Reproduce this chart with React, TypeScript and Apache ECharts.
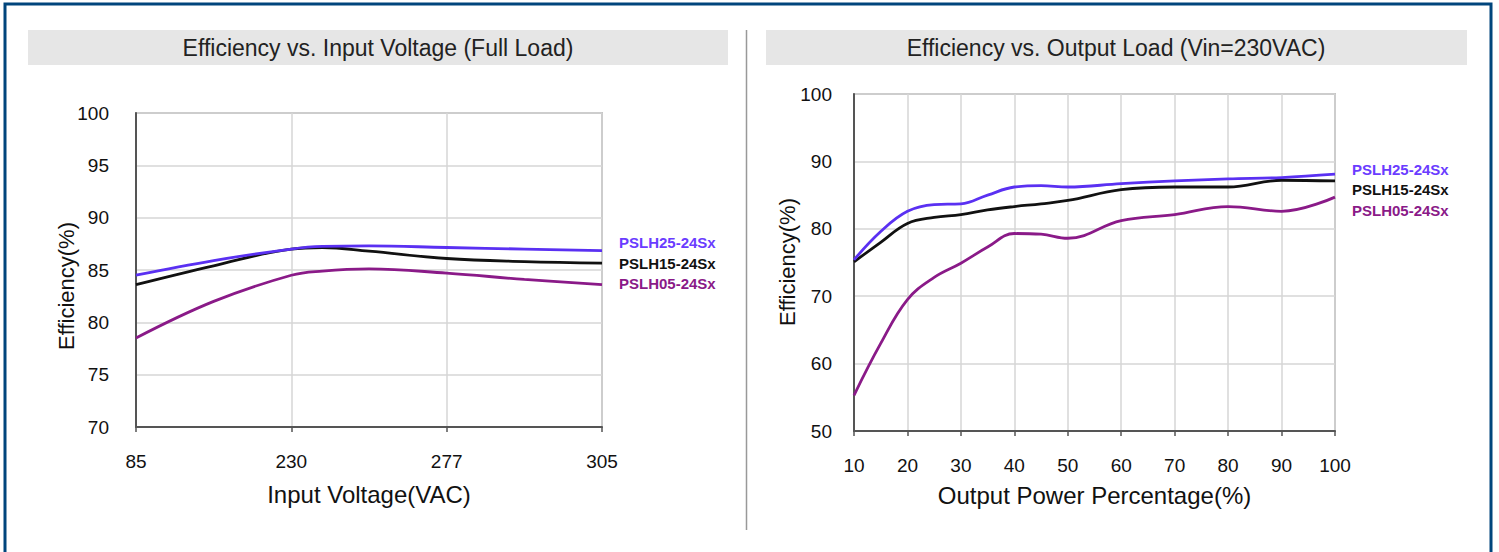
import React, { useEffect, useRef } from "react";
import * as echarts from "echarts";

// ---- Left chart: Efficiency vs. Input Voltage (Full Load) ----
const leftTickLabels = ["85", "230", "277", "305"];
// positions along the evenly spaced voltage axis (0 = 85V, 1 = 230V, 2 = 277V, 3 = 305V)
const leftX = [0, 0.5, 1, 1.2, 1.5, 2, 2.5, 3];
const leftPSLH25 = [84.5, 85.9, 87.0, 87.25, 87.3, 87.15, 87.0, 86.85];
const leftPSLH15 = [83.6, 85.4, 87.0, 87.15, 86.8, 86.1, 85.8, 85.65];
const leftPSLH05 = [78.5, 82.0, 84.5, 84.9, 85.1, 84.7, 84.1, 83.6];

// ---- Right chart: Efficiency vs. Output Load (Vin=230VAC) ----
const rightX = [10, 15, 20, 25, 30, 35, 40, 45, 50, 60, 70, 80, 90, 100];
const rightPSLH25 = [75.4, 79.6, 82.6, 83.6, 83.7, 85.0, 86.2, 86.4, 86.2, 86.7, 87.1, 87.4, 87.6, 88.1];
const rightPSLH15 = [75.1, 78.0, 80.8, 81.7, 82.1, 82.8, 83.3, 83.7, 84.2, 85.8, 86.2, 86.2, 87.2, 87.1];
const rightPSLH05 = [55.3, 63.0, 69.5, 72.8, 74.9, 77.3, 79.3, 79.2, 78.6, 81.2, 82.1, 83.3, 82.6, 84.7];

const seriesNames = ["PSLH25-24Sx", "PSLH15-24Sx", "PSLH05-24Sx"];
const lineColors = ["#5a30f2", "#111111", "#8a1a88"];
const labelColors = ["#6a3cff", "#111111", "#8a1a88"];

const FONT = "'Liberation Sans', Arial, sans-serif";

function pairs(xs: number[], ys: number[]) {
  return xs.map((x, i) => [x, ys[i]]);
}

export default function App() {
  const ref = useRef<HTMLDivElement>(null);

  useEffect(() => {
    document.body.style.margin = "0";
    if (!ref.current) return;
    const chart = echarts.init(ref.current, undefined, { renderer: "svg" });

    const axisLabelStyle = { color: "#111", fontSize: 19, fontFamily: FONT };
    const splitLine = { show: true, lineStyle: { color: "#d6d6d6", width: 1.5 } };
    const axisLine = { show: true, lineStyle: { color: "#555", width: 2 } };

    const leftOffsets = [-8, 0, -1];
    const rightOffsets = [-5, 9, 13];
    const leftData = [leftPSLH25, leftPSLH15, leftPSLH05];
    const rightData = [rightPSLH25, rightPSLH15, rightPSLH05];

    const makeSeries = (grid: number, xs: number[], data: number[][], offsets: number[]) =>
      data.map((ys, i) => ({
        type: "line",
        name: seriesNames[i] + (grid === 0 ? "" : " "),
        xAxisIndex: grid,
        yAxisIndex: grid,
        data: pairs(xs, ys),
        smooth: 0.4,
        showSymbol: false,
        symbol: "none",
        lineStyle: { color: lineColors[i], width: 2.8 },
        z: 10 - i,
        endLabel: {
          show: true,
          formatter: seriesNames[i],
          color: labelColors[i],
          fontWeight: "bold",
          fontSize: 15,
          fontFamily: FONT,
          distance: 17,
          offset: [0, offsets[i]],
        },
      }));

    const option: any = {
      animation: false,
      backgroundColor: "#ffffff",
      grid: [
        { left: 136, top: 113, width: 466, height: 314, show: true, borderColor: "#999", borderWidth: 1.5, backgroundColor: "transparent" },
        { left: 854, top: 94, width: 481, height: 337, show: true, borderColor: "#999", borderWidth: 1.5, backgroundColor: "transparent" },
      ],
      xAxis: [
        {
          type: "value",
          gridIndex: 0,
          min: 0,
          max: 3,
          interval: 1,
          axisLine,
          axisTick: { show: true, length: 5, lineStyle: { color: "#555", width: 1.5 } },
          splitLine,
          axisLabel: { ...axisLabelStyle, margin: 25, formatter: (v: number) => leftTickLabels[Math.round(v)] ?? "" },
          name: "Input Voltage(VAC)",
          nameLocation: "middle",
          nameGap: 55,
          nameTextStyle: { color: "#111", fontSize: 24, fontFamily: FONT },
        },
        {
          type: "value",
          gridIndex: 1,
          min: 10,
          max: 100,
          interval: 10,
          axisLine,
          axisTick: { show: true, length: 5, lineStyle: { color: "#555", width: 1.5 } },
          splitLine,
          axisLabel: { ...axisLabelStyle, margin: 25 },
          name: "Output Power Percentage(%)",
          nameLocation: "middle",
          nameGap: 52,
          nameTextStyle: { color: "#111", fontSize: 24, fontFamily: FONT },
        },
      ],
      yAxis: [
        {
          type: "value",
          gridIndex: 0,
          min: 70,
          max: 100,
          interval: 5,
          axisLine,
          axisTick: { show: false },
          splitLine,
          axisLabel: { ...axisLabelStyle, margin: 27 },
        },
        {
          type: "value",
          gridIndex: 1,
          min: 50,
          max: 100,
          interval: 10,
          axisLine,
          axisTick: { show: false },
          splitLine,
          axisLabel: { ...axisLabelStyle, margin: 22 },
        },
      ],
      series: [
        ...makeSeries(0, leftX, leftData, leftOffsets),
        ...makeSeries(1, rightX, rightData, rightOffsets),
      ],
      graphic: [
        { type: "rect", shape: { x: 5, y: 4, width: 1486, height: 620 }, style: { fill: "none", stroke: "#00457c", lineWidth: 3 }, silent: true },
        { type: "rect", shape: { x: 28, y: 30, width: 700, height: 35 }, style: { fill: "#e6e6e6" }, silent: true },
        { type: "rect", shape: { x: 766, y: 30, width: 701, height: 35 }, style: { fill: "#e6e6e6" }, silent: true },
        {
          type: "text", x: 378, y: 48, silent: true,
          style: { text: "Efficiency vs. Input Voltage (Full Load)", fill: "#222", fontSize: 23, fontFamily: FONT, align: "center", verticalAlign: "middle" },
        },
        {
          type: "text", x: 1116, y: 48, silent: true,
          style: { text: "Efficiency vs. Output Load (Vin=230VAC)", fill: "#222", fontSize: 23, fontFamily: FONT, align: "center", verticalAlign: "middle" },
        },
        { type: "line", shape: { x1: 746.5, y1: 30, x2: 746.5, y2: 530 }, style: { stroke: "#999", lineWidth: 1.5 }, silent: true },
        {
          type: "text", x: 66, y: 286, rotation: Math.PI / 2, silent: true,
          style: { text: "Efficiency(%)", fill: "#111", fontSize: 22, fontFamily: FONT, align: "center", verticalAlign: "middle" },
        },
        {
          type: "text", x: 787, y: 262, rotation: Math.PI / 2, silent: true,
          style: { text: "Efficiency(%)", fill: "#111", fontSize: 22, fontFamily: FONT, align: "center", verticalAlign: "middle" },
        },
      ],
    };

    chart.setOption(option);
    return () => chart.dispose();
  }, []);

  return <div ref={ref} style={{ width: 1499, height: 552 }} />;
}
